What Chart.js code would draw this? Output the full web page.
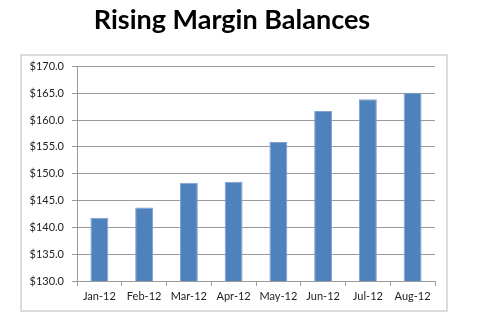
<!DOCTYPE html>
<html>
<head>
<meta charset="utf-8">
<script src="https://cdn.jsdelivr.net/npm/chart.js@4/dist/chart.umd.min.js"></script>
<style>
  html, body { margin: 0; padding: 0; background: #fff; }
  #wrap { width: 480px; height: 325px; position: relative; }
</style>
</head>
<body>
<div id="wrap"><canvas id="marginChart" width="480" height="325"></canvas></div>
<script>
// Monthly margin balances (billions)
const months = ["Jan-12", "Feb-12", "Mar-12", "Apr-12", "May-12", "Jun-12", "Jul-12", "Aug-12"];
const balances = [141.8, 143.7, 148.3, 148.5, 155.9, 161.7, 163.9, 165.1];
const yMin = 130;
const yMax = 170;
const yStep = 5;

//Light grey box around the plot, like an Excel chart frame
const frameBox = {
    id: 'frameBox',
    beforeDraw(chart) {
        const ctx = chart.ctx;
        ctx.save();
        ctx.strokeStyle = '#cfcfcf';
        ctx.lineWidth = 1.5;
        ctx.strokeRect(21, 55, 426, 256);
        ctx.restore();
    }
};

const ctx = document.getElementById('marginChart').getContext('2d');
new Chart(ctx, {
    type: 'bar',
    data: {
        labels: months,
        datasets: [{
            label: "Margin Balance",
            data: balances,
            backgroundColor: "#4f81bd",
            borderColor: "#7da2d0",
            borderWidth: 1,
            categoryPercentage: 1.0,
            barPercentage: 0.4
        }]
    },
    options: {
        responsive: false,
        animation: false,
        layout: { padding: { left: 0, right: 16, top: 0, bottom: 0 } },
        plugins: {
            legend: { display: false },
            tooltip: { enabled: false },
            title: {
                display: true,
                text: "Rising Margin Balances",
                color: "#000",
                font: { family: "Lato", size: 27, weight: "bold" },
                padding: { top: 4, bottom: 30 }
            }
        },
        scales: {
            x: {
                grid: {
                    display: true,
                    offset: true,
                    drawOnChartArea: false,
                    drawTicks: true,
                    tickLength: 5,
                    color: "#9a9a9a"
                },
                border: { color: "#9a9a9a" },
                ticks: {
                    color: "#222",
                    font: { family: "Lato", size: 11 },
                    padding: 4,
                    maxRotation: 0
                },
                afterFit(scale) { scale.height = 44; }
            },
            y: {
                min: yMin,
                max: yMax,
                grid: {
                    color: "#9a9a9a",
                    tickLength: 5
                },
                border: { color: "#9a9a9a" },
                ticks: {
                    stepSize: yStep,
                    color: "#222",
                    font: { family: "Lato", size: 11 },
                    padding: 8,
                    callback: (v) => "$" + Number(v).toFixed(1)
                },
                afterFit(scale) { scale.width = 77; }
            },
            // empty spacer on the right so the title sits a bit right of centre
            spacer: {
                type: 'linear',
                position: 'right',
                grid: { display: false },
                border: { display: false },
                ticks: { display: false },
                afterFit(scale) { scale.width = 29; }
            }
        }
    },
    plugins: [frameBox]
});
</script>
</body>
</html>
